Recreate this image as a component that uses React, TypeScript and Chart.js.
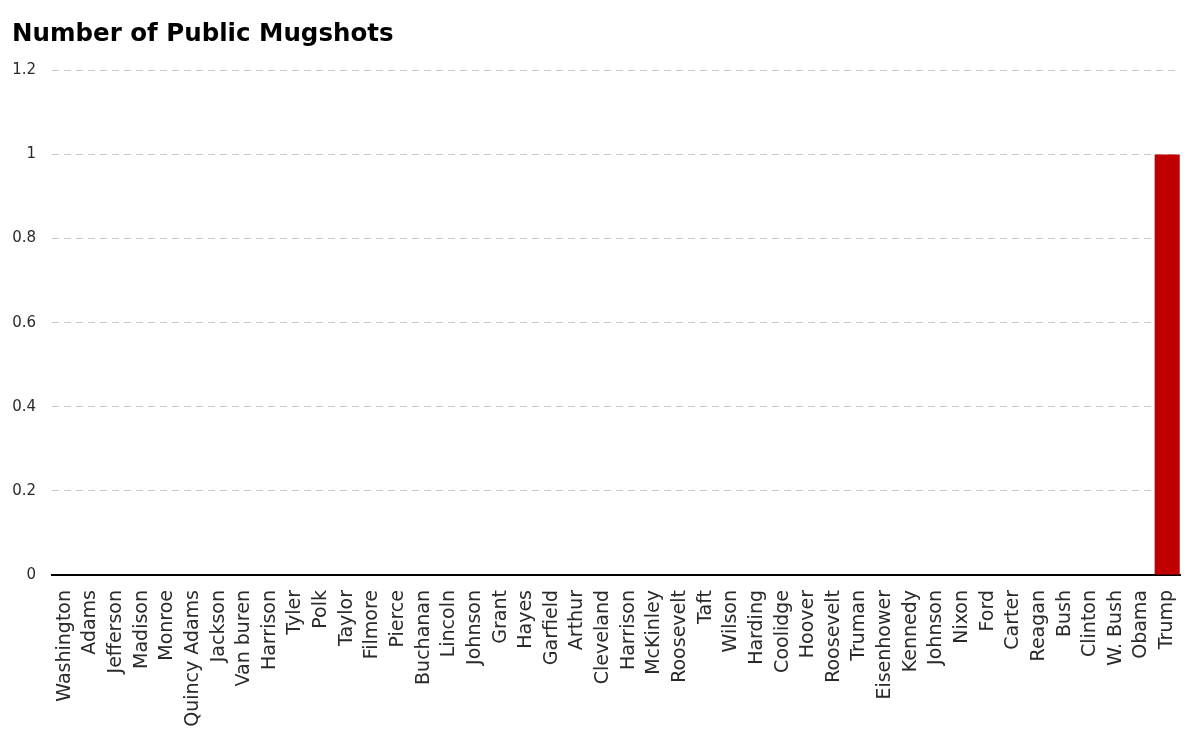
import React, { useEffect, useRef } from "react";
import { Chart, registerables } from "chart.js";

Chart.register(...registerables);

const presidents = [
  "Washington", "Adams", "Jefferson", "Madison", "Monroe", "Quincy Adams", "Jackson", "Van buren",
  "Harrison", "Tyler", "Polk", "Taylor", "Filmore", "Pierce", "Buchanan", "Lincoln", "Johnson",
  "Grant", "Hayes", "Garfield", "Arthur", "Cleveland", "Harrison", "McKinley", "Roosevelt", "Taft",
  "Wilson", "Harding", "Coolidge", "Hoover", "Roosevelt", "Truman", "Eisenhower", "Kennedy",
  "Johnson", "Nixon", "Ford", "Carter", "Reagan", "Bush", "Clinton", "W. Bush", "Obama", "Trump",
];

const mugshots = [
  0, 0, 0, 0, 0, 0, 0, 0, 0, 0, 0, 0, 0, 0, 0, 0, 0, 0, 0, 0, 0, 0,
  0, 0, 0, 0, 0, 0, 0, 0, 0, 0, 0, 0, 0, 0, 0, 0, 0, 0, 0, 0, 0, 1,
];

const chartTitle = "Number of Public Mugshots";
const yMax = 1.2;
const yStep = 0.2;

const FONT = '"DejaVu Sans", sans-serif';

export default function App() {
  const ref = useRef<HTMLCanvasElement | null>(null);

  useEffect(() => {
    if (!ref.current) return;
    const chart = new Chart(ref.current, {
      type: "bar",
      data: {
        labels: presidents,
        datasets: [
          {
            label: chartTitle,
            data: mugshots,
            backgroundColor: "#C00000",
            borderColor: "#C00000",
            borderWidth: 0,
            barPercentage: 1,
            categoryPercentage: 0.98,
          },
        ],
      },
      options: {
        animation: false,
        responsive: false,
        maintainAspectRatio: false,
        layout: { padding: { left: 12, right: 20, top: 20, bottom: 3 } },
        plugins: {
          legend: { display: false },
          tooltip: { enabled: false },
          title: {
            display: true,
            text: chartTitle,
            align: "start",
            color: "#000",
            font: { family: FONT, size: 24.5, weight: "bold" },
            padding: { top: 0, bottom: 21 },
          },
        },
        scales: {
          x: {
            grid: { display: false, drawTicks: false },
            border: { display: true, color: "#000", width: 2 },
            afterFit: (s: any) => {
              s.paddingLeft = 0;
              s.paddingRight = 0;
              s.height = 160;
            },
            ticks: {
              color: "#2a2a2a",
              font: { family: FONT, size: 19 },
              maxRotation: 90,
              minRotation: 90,
              autoSkip: false,
              padding: 15,
            },
          },
          y: {
            min: 0,
            max: yMax,
            afterFit: (s: any) => {
              s.width = 40;
            },
            grid: { color: "#c8c8c8", drawTicks: false, lineWidth: 1 },
            border: { display: false, dash: [7, 5] },
            ticks: {
              stepSize: yStep,
              color: "#2a2a2a",
              font: { family: FONT, size: 15 },
              padding: 16,
              callback: (v: any) => String(Math.round(Number(v) * 10) / 10),
            },
          },
        },
      },
    });
    return () => chart.destroy();
  }, []);

  return (
    <div style={{ position: "fixed", left: 0, top: 0, width: 1200, height: 738, background: "#fff" }}>
      <canvas ref={ref} width={1200} height={738} style={{ display: "block", width: 1200, height: 738 }} />
    </div>
  );
}
